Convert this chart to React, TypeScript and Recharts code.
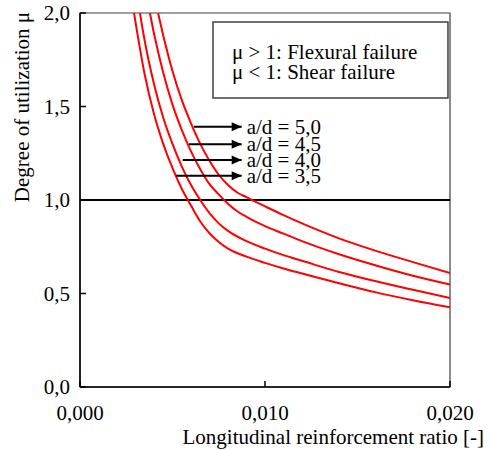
import { LineChart, Line, XAxis, YAxis, ReferenceLine, ReferenceArea, Label } from 'recharts';

const FONT = '"Liberation Serif", "Times New Roman", "DejaVu Serif", serif';

const xTicks = [0, 0.01, 0.02];
const yTicks = [0, 0.5, 1, 1.5, 2];

// a/d = 3,5
const rho35 = [0.00292, 0.0035, 0.004, 0.0045, 0.005, 0.0055, 0.006, 0.0065, 0.007, 0.0075, 0.008, 0.009, 0.01, 0.011, 0.012, 0.014, 0.016, 0.018, 0.02];
const mu35 = [2.0, 1.67, 1.46, 1.3, 1.17, 1.06, 0.97, 0.885, 0.822, 0.775, 0.74, 0.697, 0.664, 0.634, 0.607, 0.555, 0.506, 0.464, 0.426];

// a/d = 4,0
const rho40 = [0.00324, 0.0035, 0.004, 0.0045, 0.005, 0.0055, 0.006, 0.0065, 0.007, 0.0075, 0.008, 0.009, 0.01, 0.011, 0.012, 0.014, 0.016, 0.018, 0.02];
const mu40 = [2.0, 1.85, 1.62, 1.44, 1.3, 1.18, 1.08, 1.0, 0.93, 0.875, 0.835, 0.78, 0.74, 0.705, 0.675, 0.615, 0.565, 0.52, 0.476];

// a/d = 4,5
const rho45 = [0.00378, 0.004, 0.0045, 0.005, 0.0055, 0.006, 0.0065, 0.007, 0.0075, 0.008, 0.0085, 0.009, 0.01, 0.011, 0.012, 0.014, 0.016, 0.018, 0.02];
const mu45 = [2.0, 1.89, 1.68, 1.51, 1.375, 1.26, 1.165, 1.085, 1.03, 0.98, 0.94, 0.91, 0.86, 0.82, 0.78, 0.71, 0.65, 0.595, 0.548];

// a/d = 5,0
const rho50 = [0.00422, 0.0045, 0.005, 0.0055, 0.006, 0.0065, 0.007, 0.0075, 0.008, 0.0085, 0.009, 0.0095, 0.01, 0.011, 0.012, 0.014, 0.016, 0.018, 0.02];
const mu50 = [2.0, 1.88, 1.69, 1.535, 1.41, 1.3, 1.21, 1.135, 1.08, 1.04, 1.015, 0.99, 0.966, 0.919, 0.875, 0.795, 0.728, 0.668, 0.61];

const curves = [
  { key: 'ad35', rho: rho35, mu: mu35 },
  { key: 'ad40', rho: rho40, mu: mu40 },
  { key: 'ad45', rho: rho45, mu: mu45 },
  { key: 'ad50', rho: rho50, mu: mu50 },
];

// arrow annotations (top to bottom)
const arrowText = ['a/d = 5,0', 'a/d = 4,5', 'a/d = 4,0', 'a/d = 3,5'];
const arrowMu = [1.392, 1.298, 1.214, 1.13];
const arrowFrom = [0.00616, 0.00589, 0.00555, 0.00519];
const arrowTo = 0.00874;

const boxLines = ['μ > 1: Flexural failure', 'μ < 1: Shear failure'];

const fmt = (v: number, d: number) => v.toFixed(d).replace('.', ',');
const toPoints = (rho: number[], mu: number[]) => rho.map((r, i) => ({ rho: r, mu: mu[i] }));

const textStyle = { fontSize: 21, fontFamily: FONT, fill: '#000' };

function XTick({ x, y, payload }: any) {
  return (
    <g>
      <line x1={x} y1={y} x2={x} y2={y - 6} stroke="#000" strokeWidth={1.5} />
      <text x={x} y={y + 33} textAnchor="middle" style={textStyle}>
        {fmt(payload.value, 3)}
      </text>
    </g>
  );
}

function YTick({ x, y, payload }: any) {
  return (
    <g>
      <line x1={x} y1={y} x2={x + 6} y2={y} stroke="#000" strokeWidth={1.5} />
      <text x={x - 10} y={y + 7} textAnchor="end" style={textStyle}>
        {fmt(payload.value, 1)}
      </text>
    </g>
  );
}

function YTitle({ viewBox }: any) {
  const cx = viewBox.x + 22;
  const cy = viewBox.y + 94;
  return (
    <text x={cx} y={cy} transform={`rotate(-90 ${cx} ${cy})`} textAnchor="middle" dominantBaseline="central" style={textStyle}>
      Degree of utilization μ
    </text>
  );
}

function XTitle({ viewBox }: any) {
  return (
    <text x={viewBox.x + viewBox.width + 34} y={viewBox.y + 57} textAnchor="end" style={textStyle}>
      Longitudinal reinforcement ratio [-]
    </text>
  );
}

const arrowLabel = (text: string) => ({ viewBox }: any) => {
  const tip = viewBox.x + viewBox.width;
  const y = viewBox.y;
  return (
    <g>
      <polygon points={`${tip},${y} ${tip - 10},${y - 4.5} ${tip - 10},${y + 4.5}`} fill="#000" />
      <text x={tip + 5} y={y + 7} textAnchor="start" style={textStyle}>
        {text}
      </text>
    </g>
  );
};

function BoxText({ viewBox }: any) {
  return (
    <g>
      {boxLines.map((t, i) => (
        <text key={t} x={viewBox.x + 19} y={viewBox.y + 37 + i * 20} style={textStyle}>
          {t}
        </text>
      ))}
    </g>
  );
}

export default function App() {
  return (
    <div style={{ position: 'absolute', left: 0, top: 0, width: 491, height: 450, background: '#fff' }}>
      <LineChart width={491} height={450} margin={{ top: 13, right: 41, bottom: 0, left: 0 }} style={{ fontFamily: FONT }}>
        <ReferenceArea x1={0} x2={0.02} y1={0} y2={2} fill="none" stroke="#404040" strokeWidth={1.2} />
        <XAxis
          type="number"
          dataKey="rho"
          domain={[0, 0.02]}
          ticks={xTicks}
          interval={0}
          height={63}
          tickSize={0}
          tickMargin={0}
          tick={<XTick />}
          axisLine={{ stroke: '#000', strokeWidth: 1.5 }}
          allowDataOverflow
        >
          <Label content={<XTitle />} />
        </XAxis>
        <YAxis
          type="number"
          dataKey="mu"
          domain={[0, 2]}
          ticks={yTicks}
          interval={0}
          width={80}
          tickSize={0}
          tickMargin={0}
          tick={<YTick />}
          axisLine={{ stroke: '#000', strokeWidth: 1.5 }}
          allowDataOverflow
        >
          <Label content={<YTitle />} />
        </YAxis>
        <ReferenceLine y={1} stroke="#000" strokeWidth={1.8} />
        {curves.map((c) => (
          <Line
            key={c.key}
            data={toPoints(c.rho, c.mu)}
            dataKey="mu"
            type="monotone"
            stroke="#ff0000"
            strokeWidth={2}
            dot={false}
            activeDot={false}
            isAnimationActive={false}
          />
        ))}
        {arrowText.map((t, i) => (
          <ReferenceLine
            key={t}
            segment={[
              { x: arrowFrom[i], y: arrowMu[i] },
              { x: arrowTo, y: arrowMu[i] },
            ]}
            stroke="#000"
            strokeWidth={2}
            label={arrowLabel(t)}
          />
        ))}
        <ReferenceArea x1={0.00719} x2={0.01989} y1={1.545} y2={1.952} fill="#fff" fillOpacity={1} stroke="#404040" strokeWidth={1.5}>
          <Label content={<BoxText />} />
        </ReferenceArea>
      </LineChart>
    </div>
  );
}
